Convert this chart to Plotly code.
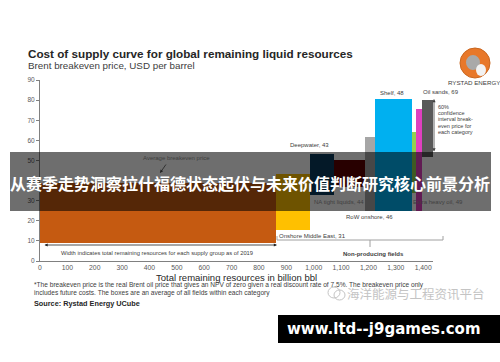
import plotly.graph_objects as go
import numpy as np

# ---------------- data ----------------
categories = ["Producing fields", "Onshore Middle East", "Deepwater", "NA tight liquids",
              "RoW onshore", "Shelf", "Extra heavy oil", "Other", "Oil sands"]
resources_bn_bbl = [863, 124, 86, 113, 37, 135, 15, 22, 40]
breakeven_low = [9, 15.4, 33, 37, 25, 25, 34, 25, 51.7]
breakeven_high = [38.8, 43.3, 53.2, 50.2, 61.7, 80.6, 64.1, 75.6, 80.1]
average_breakeven = [None, 31, 43, 44, 46, 48, 49, None, 69]
colors = ["#C55A11", "#FFC000", "#0B3A5E", "#5E0000", "#A6A6A6", "#00B0F0",
          "#92D050", "#E040C0", "#595959"]
x_ticks = [0, 100, 200, 300, 400, 500, 600, 700, 800, 900, 1000, 1100, 1200, 1300, 1400]
y_ticks = [0, 10, 20, 30, 40, 50, 60, 70, 80, 90]

# ---------------- layout geometry ----------------
W, H = 500, 362
L, R, T, B = 40, 433, 80, 261


def px(x):
    return (x - L) / (R - L)


def py(y):
    return (B - y) / (B - T)


edges = np.concatenate([[0], np.cumsum(resources_bn_bbl)])
centers = (edges[:-1] + edges[1:]) / 2

fig = go.Figure()
fig.add_trace(go.Bar(
    x=centers,
    y=[h - l for h, l in zip(breakeven_high, breakeven_low)],
    base=breakeven_low,
    width=resources_bn_bbl,
    marker=dict(color=colors, line=dict(width=0)),
    hovertext=categories,
    showlegend=False,
))

FONT = "Liberation Sans, Arial, sans-serif"
ann = []


def text(x, y, s, size=6.5, color="#404040", anchor="center", bold=False, family=FONT):
    if bold:
        s = "<b>" + s + "</b>"
    ann.append(dict(x=px(x), y=py(y), xref="paper", yref="paper", text=s, showarrow=False,
                    xanchor=anchor, yanchor="middle", borderpad=0,
                    font=dict(size=size, color=color, family=family)))


def arrow(x1, y1, x0, y0, both=False, color="#222", width=0.8, head=2, size=0.8):
    d = dict(x=px(x1), y=py(y1), xref="paper", yref="paper", text="", showarrow=True,
             ax=x0 - x1, ay=y0 - y1, axref="pixel", ayref="pixel",
             arrowhead=head, arrowsize=size, arrowwidth=width, arrowcolor=color,
             standoff=0, startstandoff=0)
    if both:
        d["arrowside"] = "end+start"
        d["startarrowhead"] = head
        d["startarrowsize"] = size
    ann.append(d)


# titles
text(27, 53, "Cost of supply curve for global remaining liquid resources", size=11.7,
     color="#262626", anchor="left", bold=True)
text(27, 65, "Brent breakeven price, USD per barrel", size=9.8, color="#404040", anchor="left")

# logo text
text(474, 83, "RYSTAD ENERGY", size=6.2, color="#404040")

# bar labels
text(392, 93, f"Shelf, {average_breakeven[5]}", size=6)
text(422, 92, f"Oil sands, {average_breakeven[8]}", size=6, anchor="left")
text(309, 145, f"Deepwater, {average_breakeven[2]}", size=6)
text(339, 202, f"NA tight liquids, {average_breakeven[3]}", size=6)
text(369, 217, f"RoW onshore, {average_breakeven[4]}", size=6)
text(412, 202, f"Extra heavy oil, {average_breakeven[6]}", size=6, anchor="left")
text(278, 236, f"Onshore Middle East, {average_breakeven[1]}", size=6, anchor="left")

for i, line in enumerate(["60%", "confidence", "interval break-", "even price for", "each category"]):
    text(437, 107 + i * 6.2, line, size=5.5, anchor="left")

text(176, 158, "Average breakeven price", size=6)
arrow(160, 173, 167, 163)

text(157, 253, "Width indicates total remaining resources for each supply group as of 2019", size=5.8)
arrow(277, 245, 43, 245, both=True)

text(373, 254, "Non-producing fields", size=6, bold=True, color="#404040")
arrow(434, 99, 434, 153, both=True, color="#404040")

# axis title
text(236, 277, "Total remaining resources in billion bbl", size=9.5, color="#262626")

# footnotes
text(33, 285, "*The breakeven price is the real Brent oil price that gives an NPV of zero given a real discount rate of 7.5%. The breakeven price only",
     size=6.6, anchor="left")
text(33, 293, "includes future costs. The boxes are an average of all fields within each category",
     size=6.6, anchor="left")
text(33, 303, "Source: Rystad Energy UCube", size=7.3, anchor="left", bold=True, color="#262626")

# watermark
text(416, 293, "海洋能源与工程资讯平台", size=12.5, color="#C4C4C4", family="Noto Sans CJK SC")

# banner text and url
text(250, 183, "从赛季走势洞察拉什福德状态起伏与未来价值判断研究核心前景分析", size=16,
     color="white", bold=True, family="Noto Sans CJK SC")
text(384, 329, "www.ltd--j9games.com", size=15, color="white", bold=True,
     family="DejaVu Sans, sans-serif")

shapes = []


def rect(x0, y0, x1, y1, fill, layer="above", line=None):
    shapes.append(dict(type="rect", xref="paper", yref="paper", x0=px(x0), x1=px(x1),
                       y0=py(y0), y1=py(y1), fillcolor=fill, layer=layer,
                       line=line or dict(width=0)))


def seg(x0, y0, x1, y1, color="#A0A0A0", width=1):
    shapes.append(dict(type="line", xref="paper", yref="paper", x0=px(x0), x1=px(x1),
                       y0=py(y0), y1=py(y1), line=dict(color=color, width=width), layer="above"))


# non-producing bracket
seg(277, 240, 443, 240)
seg(277, 236, 277, 240)
seg(443, 236, 443, 240)
seg(370, 240, 370, 247)

# logo
shapes.append(dict(type="circle", xref="paper", yref="paper", x0=px(460), x1=px(490),
                   y0=py(78), y1=py(48), fillcolor="#E8782A", line=dict(color="#C9661F", width=1),
                   layer="above"))
shapes.append(dict(type="circle", xref="paper", yref="paper", x0=px(466), x1=px(480),
                   y0=py(70), y1=py(55), fillcolor="#A9A9A9", line=dict(width=0), layer="above"))
shapes.append(dict(type="circle", xref="paper", yref="paper", x0=px(476), x1=px(486),
                   y0=py(76), y1=py(64), fillcolor="#F2F2F2", line=dict(width=0), layer="above"))

# watermark icon
shapes.append(dict(type="circle", xref="paper", yref="paper", x0=px(328), x1=px(340),
                   y0=py(298), y1=py(287), line=dict(color="#C4C4C4", width=1), layer="above"))
shapes.append(dict(type="circle", xref="paper", yref="paper", x0=px(334), x1=px(345),
                   y0=py(300), y1=py(290), line=dict(color="#C4C4C4", width=1), layer="above"))

# banner and url box
rect(10, 152, 491, 211, "rgba(0,0,0,0.57)")
rect(278, 315, 500, 343, "black")

fig.update_layout(
    width=W, height=H,
    margin=dict(l=L, r=W - R, t=T, b=H - B, pad=0),
    paper_bgcolor="white", plot_bgcolor="white",
    bargap=0,
    annotations=ann,
    shapes=shapes,
    font=dict(family=FONT, color="#595959"),
    xaxis=dict(range=[0, 1436], tickvals=x_ticks, tickformat=",", showline=True,
               linecolor="#808080", linewidth=1, showgrid=False, zeroline=False,
               ticks="", tickfont=dict(size=6.8, color="#595959")),
    yaxis=dict(range=[0, 90], tickvals=y_ticks, showline=True, linecolor="#808080",
               linewidth=1, showgrid=False, zeroline=False, ticks="outside", ticklen=3,
               tickcolor="#808080", tickfont=dict(size=6.5, color="#595959")),
)

fig.write_html("out.html", config={"displayModeBar": False},
               post_script="document.body.style.margin='0';document.body.style.padding='0';")
